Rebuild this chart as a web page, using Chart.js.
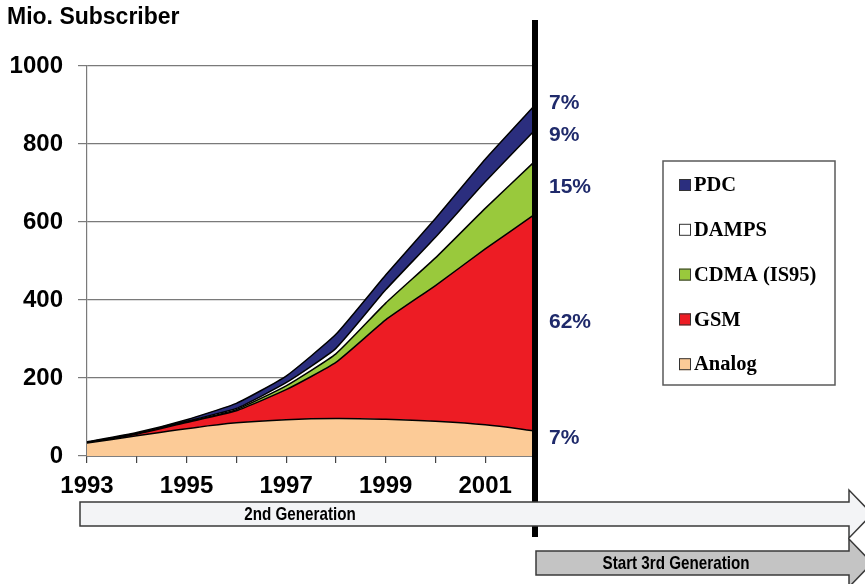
<!DOCTYPE html>
<html>
<head>
<meta charset="utf-8">
<script src="https://cdn.jsdelivr.net/npm/chart.js@4.4.1/dist/chart.umd.min.js"></script>
<style>
  html, body { margin: 0; padding: 0; background: #fff; }
  #wrap { width: 865px; height: 584px; }
</style>
</head>
<body>
<div id="wrap"><canvas id="subscriberChart" width="865" height="584"></canvas></div>
<script>
// 연도 (x축)
const years = ['1993', '1994', '1995', '1996', '1997', '1998', '1999', '2000', '2001', '2002'];

// 방식별 가입자 수 (백만 명)
const analog = [33, 52, 70, 85, 93, 96, 94, 89, 80, 64];
const gsm    = [1, 4, 16, 31, 77, 144, 255, 348, 451, 556];
const cdma   = [0, 1, 1, 3, 10, 22, 43, 71, 104, 136];
const damps  = [1, 1, 2, 3, 8, 14, 34, 53, 68, 80];
const pdc    = [1, 2, 4, 13, 17, 36, 38, 48, 58, 64];

// y축 눈금
const yTicks = [0, 200, 400, 600, 800, 1000];

// 아래에서 위로 쌓이는 순서
const seriesNames  = ['Analog', 'GSM', 'CDMA (IS95)', 'DAMPS', 'PDC'];
const seriesValues = [analog, gsm, cdma, damps, pdc];
const seriesColors = ['#fccb97', '#ed1c24', '#99c93c', '#ffffff', '#2b2e7e'];

const sans = '"Liberation Sans", Arial, sans-serif';
const serif = '"Liberation Serif", "Times New Roman", serif';

// 점유율 라벨 위치 보정 (px)
const shareNudge = [-5, 0, 0, -10, -14];

function drawArrow(ctx, x0, yTop, yBot, xHead, headTop, headBot, xTip, fill) {
  const yMid = (yTop + yBot) / 2;
  ctx.beginPath();
  ctx.moveTo(x0, yTop);
  ctx.lineTo(xHead, yTop);
  ctx.lineTo(xHead, headTop);
  ctx.lineTo(xTip, yMid);
  ctx.lineTo(xHead, headBot);
  ctx.lineTo(xHead, yBot);
  ctx.lineTo(x0, yBot);
  ctx.closePath();
  ctx.fillStyle = fill;
  ctx.fill();
  ctx.lineWidth = 1.5;
  ctx.strokeStyle = '#3a3a3a';
  ctx.stroke();
}

// 좁은 글꼴 대신 가로로 눌러서 그리기
function narrowText(ctx, text, x, y) {
  ctx.save();
  ctx.translate(x, y);
  ctx.scale(0.8, 1);
  ctx.fillText(text, 0, 0);
  ctx.restore();
}

// 제목, 세로 막대, 점유율, 범례, 화살표
const decorations = {
  id: 'decorations',
  afterDraw(chart) {
    const { ctx } = chart;
    const y = chart.scales.y;
    ctx.save();

    ctx.fillStyle = '#000';
    ctx.font = 'bold 23px ' + sans;
    ctx.textBaseline = 'middle';
    ctx.textAlign = 'left';
    ctx.fillText('Mio. Subscriber', 7, 18);

    // 3세대 시작 구분선
    ctx.fillRect(532, 20, 6, 517);

    // 2002년 점유율
    const last = seriesValues.map(v => v[v.length - 1]);
    const total = last.reduce((s, v) => s + v, 0);
    let base = 0;
    ctx.fillStyle = '#1f2a6b';
    ctx.font = 'bold 21px ' + sans;
    last.forEach((v, i) => {
      const mid = base + v / 2;
      base += v;
      const pct = Math.round(v / total * 100) + '%';
      ctx.fillText(pct, 549, y.getPixelForValue(mid) + shareNudge[i]);
    });

    // 범례
    ctx.lineWidth = 1.5;
    ctx.strokeStyle = '#5a5a5a';
    ctx.strokeRect(663, 161, 172, 224);
    ctx.font = 'bold 20.5px ' + serif;
    for (let k = 0; k < seriesNames.length; k++) {
      const i = seriesNames.length - 1 - k;
      const cy = 185 + k * 44.8;
      ctx.fillStyle = seriesColors[i];
      ctx.fillRect(679, cy - 6, 12, 12);
      ctx.lineWidth = 1;
      ctx.strokeStyle = '#333';
      ctx.strokeRect(679.5, cy - 5.5, 11, 11);
      ctx.fillStyle = '#000';
      ctx.fillText(seriesNames[i], 694, cy + 1);
    }

    // 세대 화살표
    drawArrow(ctx, 80, 502, 526, 849, 490, 538, 872, '#f3f4f6');
    drawArrow(ctx, 536, 551, 575, 849, 539, 587, 872, '#c4c4c4');
    ctx.fillStyle = '#000';
    ctx.textAlign = 'center';
    ctx.font = 'bold 19px ' + sans;
    narrowText(ctx, '2nd Generation', 300, 515);
    narrowText(ctx, 'Start 3rd Generation', 676, 564);

    ctx.restore();
  }
};

const ctx = document.getElementById('subscriberChart').getContext('2d');

const datasets = seriesNames.map((name, i) => ({
  label: name,
  data: seriesValues[i],
  backgroundColor: seriesColors[i],
  borderColor: '#000',
  borderWidth: 1.5,
  pointRadius: 0,
  tension: i === 0 ? 0.4 : 0.15,
  fill: i === 0 ? 'origin' : '-1'
}));

const subscriberChart = new Chart(ctx, {
  type: 'line',
  data: { labels: years, datasets: datasets },
  options: {
    responsive: false,
    animation: false,
    layout: { padding: { left: 0, top: 66, right: 330, bottom: 83 } },
    plugins: {
      legend: { display: false },
      tooltip: { enabled: false }
    },
    scales: {
      x: {
        afterFit: s => { s.height = 45; },
        ticks: {
          autoSkip: false,
          maxRotation: 0,
          padding: 9,
          color: '#000',
          font: { family: sans, size: 24, weight: 'bold' },
          callback: (v, i) => (i % 2 === 0 && i < years.length - 1) ? years[i] : ''
        },
        grid: { drawOnChartArea: false, color: '#444', tickLength: 7, lineWidth: 1.2 },
        border: { color: '#222', width: 1.5 }
      },
      y: {
        stacked: true,
        min: yTicks[0],
        max: yTicks[yTicks.length - 1],
        afterFit: s => { s.width = 87; },
        afterBuildTicks: s => { s.ticks = yTicks.map(v => ({ value: v })); },
        ticks: {
          padding: 15,
          color: '#000',
          font: { family: sans, size: 24, weight: 'bold' },
          callback: v => String(v)
        },
        grid: { color: '#7a7a7a', lineWidth: 1.2, tickLength: 9 },
        border: { color: '#7a7a7a', width: 1.2 }
      }
    }
  },
  plugins: [decorations]
});
</script>
</body>
</html>
